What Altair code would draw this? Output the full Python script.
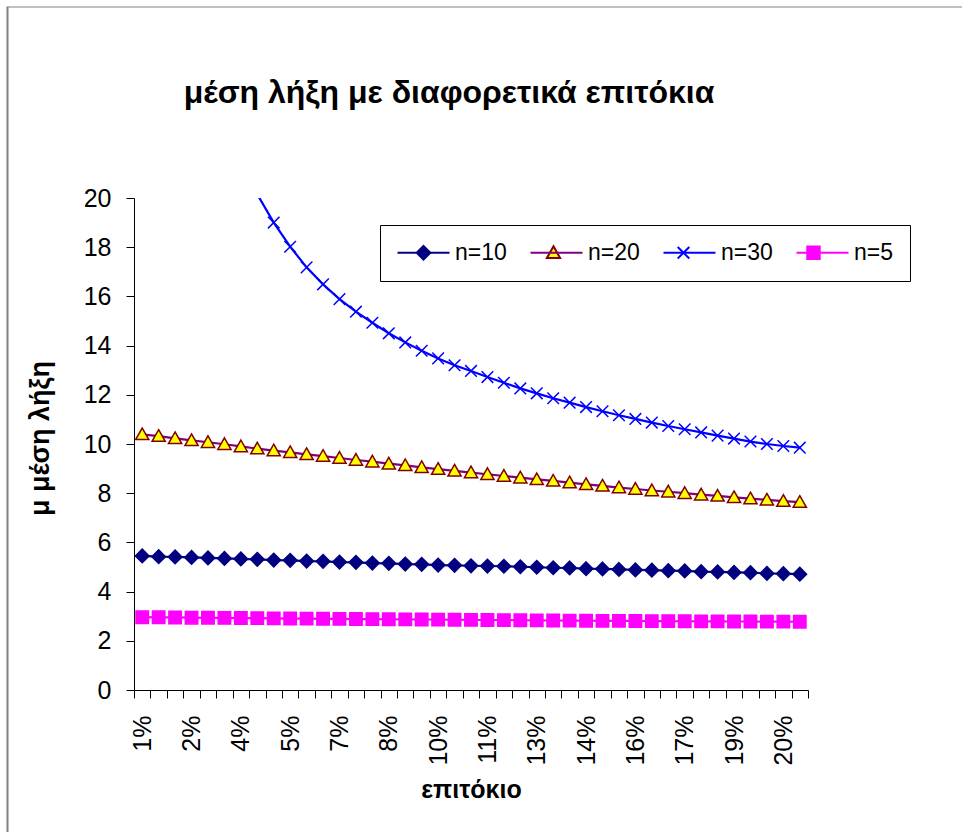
import json
import altair as alt
import pandas as pd

# ---------------- data ----------------
tick_labels = ["1%", "2%", "4%", "5%", "7%", "8%", "10%", "11%", "13%",
               "14%", "16%", "17%", "19%", "20%"]
n_categories = 41  # interest-rate categories, a label on every third one

series_names = ["n=10", "n=20", "n=30", "n=5"]

n10 = [5.45, 5.42, 5.41, 5.39, 5.37, 5.35, 5.33, 5.31, 5.28, 5.27,
       5.24, 5.23, 5.20, 5.19, 5.16, 5.15, 5.12, 5.11, 5.08, 5.07,
       5.05, 5.04, 5.03, 5.01, 4.99, 4.97, 4.96, 4.93, 4.92, 4.90,
       4.88, 4.87, 4.85, 4.84, 4.81, 4.80, 4.78, 4.77, 4.74, 4.73,
       4.71]
n20 = [10.39, 10.32, 10.23, 10.15, 10.07, 9.99, 9.90, 9.81, 9.73, 9.66,
       9.58, 9.51, 9.43, 9.35, 9.28, 9.20, 9.13, 9.05, 8.98, 8.91,
       8.84, 8.77, 8.70, 8.63, 8.56, 8.50, 8.43, 8.36, 8.30, 8.23,
       8.17, 8.11, 8.06, 8.00, 7.94, 7.89, 7.83, 7.78, 7.73, 7.68,
       7.64]
# first categories lie above the axis maximum (off the chart)
n30 = [None, None, None, None, None, None, None, 20.15, 19.00, 18.02,
       17.18, 16.49, 15.89, 15.38, 14.93, 14.50, 14.13, 13.79, 13.48, 13.20,
       12.97, 12.72, 12.49, 12.26, 12.06, 11.86, 11.68, 11.50, 11.33, 11.17,
       11.02, 10.87, 10.73, 10.60, 10.47, 10.34, 10.22, 10.10, 10.00, 9.92,
       9.85]
n5 = [2.96, 2.955, 2.95, 2.94, 2.935, 2.93, 2.925, 2.92, 2.91, 2.905,
      2.90, 2.895, 2.89, 2.885, 2.88, 2.875, 2.87, 2.865, 2.86, 2.855,
      2.85, 2.845, 2.84, 2.835, 2.83, 2.825, 2.82, 2.815, 2.81, 2.81,
      2.805, 2.80, 2.80, 2.795, 2.79, 2.79, 2.785, 2.785, 2.78, 2.78,
      2.775]

rows = []
for name, vals in zip(series_names, [n10, n20, n30, n5]):
    for i, v in enumerate(vals):
        if v is not None:
            rows.append({"idx": i, "value": v, "series": name, "S": name})
df = pd.DataFrame(rows)

# ---------------- styling ----------------
FONT = "Liberation Sans"
line_colors = ["#000080", "#800080", "#0000FF", "#FF00FF"]
marker_shapes = [
    "M0,-0.68L0.68,0L0,0.68L-0.68,0Z",             # diamond
    "M0,-0.64L0.66,0.52L-0.66,0.52Z",             # triangle
    "M-0.58,-0.58L0.58,0.58M-0.58,0.58L0.58,-0.58",  # x
    "M-0.62,-0.62H0.62V0.62H-0.62Z",              # square
]
marker_fill = ["#000080", "#FFFF00", "transparent", "#FF00FF"]
marker_stroke = ["#000080", "#800000", "#0000FF", "#FF00FF"]

label_js = json.dumps(tick_labels)
x_label_expr = (f"((datum.value + 0.5) % 3 == 0 && datum.value < {n_categories - 1}) "
                f"? {label_js}[(datum.value + 0.5) / 3] : ''")

step = 674 / n_categories

x_enc = alt.X(
    "idx:Q",
    scale=alt.Scale(domain=[-0.5, n_categories - 0.5], nice=False, zero=False),
    axis=alt.Axis(
        values=[i - 0.5 for i in range(n_categories + 1)],
        tickCount=200,
        labelExpr=x_label_expr,
        labelOffset=step / 2,
        labelAngle=270,
        labelPadding=17,
        labelFontSize=25,
        labelFont=FONT,
        labelColor="#000000",
        labelOverlap=False,
        labelFlush=False,
        labelBound=False,
        tickSize=8,
        tickColor="#000000",
        domainColor="#000000",
        grid=False,
        title="επιτόκιο",
        titleFont=FONT,
        titleFontSize=25,
        titleFontWeight="bold",
        titleColor="#000000",
        titleBaseline="alphabetic",
        titleY=107,
    ),
)
y_enc = alt.Y(
    "value:Q",
    scale=alt.Scale(domain=[0, 20], nice=False, zero=True),
    axis=alt.Axis(
        values=list(range(0, 21, 2)),
        tickCount=50,
        format="d",
        labelFontSize=25,
        labelFont=FONT,
        labelColor="#000000",
        labelPadding=15,
        tickSize=8,
        tickColor="#000000",
        domainColor="#000000",
        grid=False,
        title="μ μέση λήξη",
        titleFont=FONT,
        titleFontSize=27,
        titleFontWeight="bold",
        titleColor="#000000",
        titleBaseline="alphabetic",
        titleAngle=270,
        titleX=-86,
        titleY=240,
    ),
)

legend_common = dict(
    title=None,
    orient="none",
    legendX=246,
    legendY=27,
    direction="horizontal",
    columns=4,
    symbolSize=400,
    symbolStrokeWidth=2,
    symbolOffset=16,
    labelOffset=20,
    labelFont=FONT,
    labelFontSize=23,
    labelColor="#000000",
    columnPadding=19,
    padding=16,
)

lines = alt.Chart(df).mark_line(clip=True, strokeWidth=2.2).encode(
    x=x_enc,
    y=y_enc,
    color=alt.Color(
        "series:N",
        scale=alt.Scale(domain=series_names, range=line_colors),
        legend=alt.Legend(symbolType="M-2.6,0H2.6", strokeColor="#000000",
                          **legend_common),
    ),
    detail="series:N",
)

pt_legend = alt.Legend(labelOpacity=0, **legend_common)
points = alt.Chart(df).transform_filter("datum.value <= 20").mark_point(
    filled=True, size=400, strokeWidth=1.5, opacity=1
).encode(
    x=alt.X("idx:Q"),
    y=alt.Y("value:Q"),
    shape=alt.Shape("S:N", scale=alt.Scale(domain=series_names, range=marker_shapes),
                    legend=pt_legend),
    fill=alt.Fill("S:N", scale=alt.Scale(domain=series_names, range=marker_fill),
                  legend=pt_legend),
    stroke=alt.Stroke("S:N", scale=alt.Scale(domain=series_names, range=marker_stroke),
                      legend=pt_legend),
)

# chart-area frame (decoration)
frame_df = pd.DataFrame({"k": [0]})
frame_left = alt.Chart(frame_df).mark_rule(color="#808080", strokeWidth=2).encode(
    x=alt.value(-126.5), y=alt.value(-191), y2=alt.value(700)
)
frame_top = alt.Chart(frame_df).mark_rule(color="#808080", strokeWidth=1).encode(
    x=alt.value(-127.5), x2=alt.value(840), y=alt.value(-191)
)

chart = alt.layer(frame_left, frame_top, lines, points).resolve_scale(
    color="independent"
).properties(
    width=674,
    height=492,
    title=alt.TitleParams(
        "μέση λήξη με διαφορετικά επιτόκια",
        font=FONT,
        fontSize=32,
        fontWeight="bold",
        color="#000000",
        anchor="middle",
        frame="group",
        baseline="alphabetic",
        offset=-129,
        dx=-22,
    ),
    autosize=alt.AutoSizeParams(type="none"),
    padding={"left": 134, "top": 198, "right": 154, "bottom": 142},
    background="white",
).configure_view(stroke=None)

chart.save("out.html", embed_options={"renderer": "svg", "actions": False})
